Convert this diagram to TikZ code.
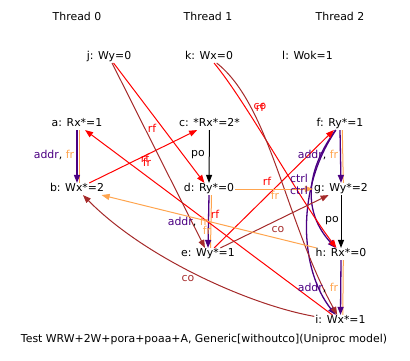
\documentclass[tikz,border=0pt]{standalone}
\usepackage{fontspec}
\setmainfont{DejaVu Sans}
\usetikzlibrary{arrows.meta}
\definecolor{rfcol}{HTML}{FF0000}
\definecolor{cocol}{HTML}{A52A2A}
\definecolor{frcol}{HTML}{FFA54F}
\definecolor{addrcol}{HTML}{4B0082}
\newcommand{\myfs}{\fontsize{10.9}{12}\selectfont}
\newcommand{\addrfr}{{\color{addrcol}addr}, {\color{frcol}fr}}
\tikzset{
  evt/.style={font=\myfs, inner sep=1pt, text height=7.7pt, text depth=2pt},
  lab/.style={font=\myfs, inner sep=0pt},
  tip/.style={-{Triangle[length=8pt,width=6pt]}},
  poe/.style={tip, line width=1pt, black},
  rfe/.style={tip, line width=1pt, rfcol},
  coe/.style={tip, line width=1pt, cocol},
  fre/.style={tip, line width=1pt, frcol},
  addre/.style={tip, line width=1.3pt, addrcol},
  frline/.style={line width=1pt, frcol},
}
\begin{document}
\begin{tikzpicture}[x=1pt,y=-1pt]
\useasboundingbox (0,0) rectangle (410,361);
% thread headers
\node[evt] (t0) at (77,18) {Thread 0};
\node[evt] (t1) at (208,18) {Thread 1};
\node[evt] (t2) at (340,18) {Thread 2};
% events
\node[evt] (j) at (109,57) {j: Wy=0};
\node[evt] (k) at (209,57) {k: Wx=0};
\node[evt] (l) at (307.5,57) {l: Wok=1};
\node[evt] (a) at (77,124) {a: Rx*=1};
\node[evt] (b) at (77,189) {b: Wx*=2};
\node[evt] (c) at (209.5,124) {c: *Rx*=2*};
\node[evt] (d) at (209,189) {d: Ry*=0};
\node[evt] (e) at (208,254) {e: Wy*=1};
\node[evt] (f) at (340,124) {f: Ry*=1};
\node[evt] (g) at (341,189) {g: Wy*=2};
\node[evt] (h) at (341,254) {h: Rx*=0};
\node[evt] (i) at (340.5,321) {i: Wx*=1};
\node[evt] (title) at (204,340) {Test WRW+2W+pora+poaa+A, Generic[withoutco](Uniproc model)};
% program order / dependencies
\draw[frline] ([xshift=2.3pt]a.south) -- ([xshift=2.3pt]b.north);
\draw[addre] (a.south) -- (b.north);
\draw[poe] (c.south) -- (d.north);
\draw[frline] ([xshift=2.5pt]d.south) -- ([xshift=2.5pt]e.north);
\draw[addre] (d.south) -- (e.north);
\draw[frline] ([xshift=2.3pt]f.south) -- ([xshift=2.3pt]g.north);
\draw[addre] (f.south) -- (g.north);
\draw[poe] (g.south) -- (h.north);
\draw[frline] ([xshift=2.3pt]h.south) -- ([xshift=2.3pt]i.north);
\draw[addre] (h.south) -- (i.north);
\draw[addre] (f) .. controls (305,172) and (303,212) .. (h);
\draw[addre] (f) .. controls (295,190) and (300,270) .. (i);
% rf
\draw[rfe] (j) -- (d);
\draw[rfe] (b) -- (c);
\draw[rfe] (i) -- (a);
\draw[rfe] (e) -- (f);
\draw[rfe] (k) .. controls (245,100) and (300,200) .. (h);
% co
\draw[coe] (j) -- (e);
\draw[coe] (e) -- (g);
\draw[coe] (k) .. controls (270,105) and (285,220) .. (i);
\draw[coe] (i) .. controls (250,305) and (145,258) .. (b);
% fr
\draw[fre] (d) -- (g);
\draw[fre] (h) -- (b);
% labels
\node[lab] (lab1) at (54,155) {\addrfr};
\node[lab] (lab2) at (198,155) {po};
\node[lab, text=rfcol] (lab3) at (152,128) {rf};
\node[lab, text=rfcol] (lab4) at (145,158) {rf};
\node[lab, text=rfcol] (lab5) at (147,162) {fr};
\node[lab, text=rfcol] (lab6) at (260,107) {co};
\node[lab, text=rfcol] (lab7) at (260,107) {rf};
\node[lab] (lab8) at (318,155) {\addrfr};
\node[lab, text=rfcol] (lab9) at (267,181) {rf};
\node[lab, text=frcol] (lab10) at (275,195) {fr};
\node[lab, text=addrcol] (lab11) at (299,178) {ctrl};
\node[lab, text=addrcol] (lab12) at (299,190) {ctrl};
\node[lab] (lab13) at (332,221) {po};
\node[lab] (lab14) at (188,222) {\addrfr};
\node[lab, text=rfcol] (lab15) at (215,214) {rf};
\node[lab, text=frcol] (lab16) at (207,230) {fr};
\node[lab, text=cocol] (lab17) at (278,230) {co};
\node[lab] (lab18) at (318,288) {\addrfr};
\node[lab, text=cocol] (lab19) at (188,279) {co};
\end{tikzpicture}
\end{document}
